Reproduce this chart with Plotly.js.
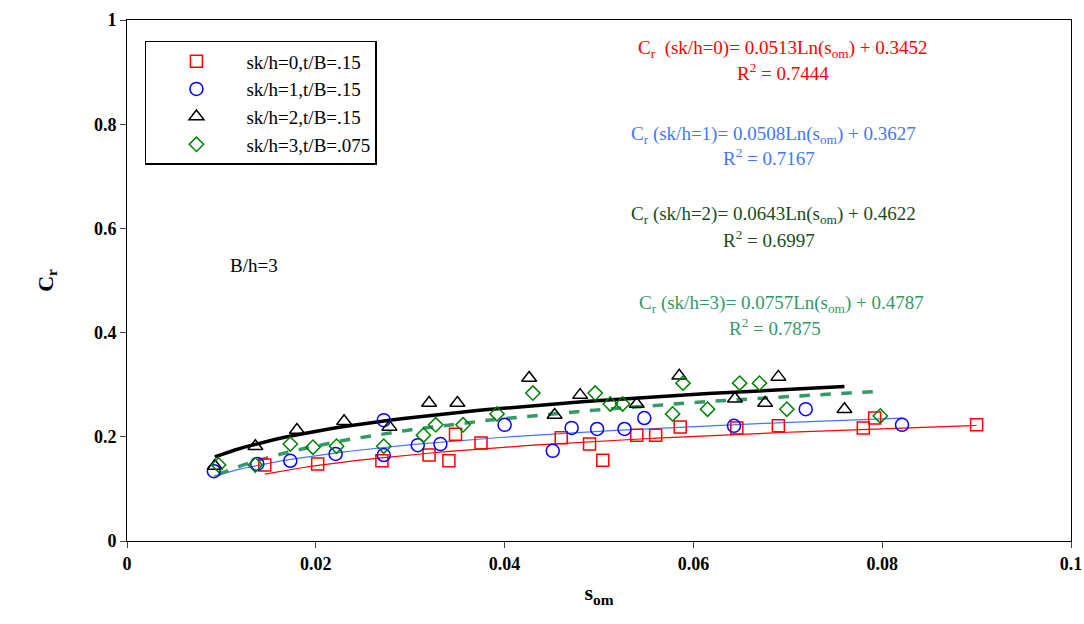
<!DOCTYPE html><html><head><script src="https://cdn.plot.ly/plotly-3.0.1.min.js"></script></head><body style="margin:0"><div id="c" style="width:1084px;height:624px"></div><script>
const x0=[0.0146,0.0202,0.027,0.032,0.0341,0.0348,0.0375,0.046,0.049,0.0504,0.054,0.056,0.0586,0.0646,0.069,0.078,0.0792,0.090];
const y0=[0.146,0.148,0.154,0.165,0.154,0.205,0.188,0.198,0.186,0.155,0.203,0.203,0.219,0.217,0.221,0.217,0.236,0.223];
const x1=[0.0092,0.0138,0.0173,0.0221,0.0272,0.0272,0.0308,0.0332,0.040,0.0451,0.0471,0.0498,0.0527,0.0548,0.0643,0.0719,0.0821];
const y1=[0.134,0.148,0.154,0.167,0.232,0.165,0.184,0.186,0.223,0.173,0.217,0.215,0.215,0.236,0.221,0.253,0.223];
const x2=[0.0093,0.0136,0.018,0.023,0.0278,0.032,0.035,0.0426,0.0453,0.048,0.054,0.0585,0.0644,0.0676,0.069,0.076];
const y2=[0.144,0.182,0.213,0.23,0.219,0.265,0.265,0.313,0.242,0.28,0.263,0.317,0.273,0.265,0.315,0.253];
const x3=[0.0097,0.0136,0.0173,0.0197,0.0222,0.0272,0.0314,0.0327,0.0356,0.0392,0.043,0.0496,0.0512,0.0525,0.0578,0.0589,0.0615,0.0649,0.067,0.0699,0.0798];
const y3=[0.146,0.146,0.186,0.18,0.182,0.182,0.203,0.223,0.223,0.244,0.284,0.284,0.263,0.263,0.244,0.303,0.253,0.303,0.303,0.253,0.24];
const fitA=[0.0513,0.0508,0.0643,0.0757], fitB=[0.3452,0.3627,0.4622,0.4787];
const fitRange=[[0.0146,0.090],[0.0092,0.0821],[0.0093,0.076],[0.0097,0.080]];
const names=['sk/h=0,t/B=.15','sk/h=1,t/B=.15','sk/h=2,t/B=.15','sk/h=3,t/B=.075'];
const mk=[{symbol:'square-open',color:'#ff0000',size:12},{symbol:'circle-open',color:'#0000ff',size:13},{symbol:'triangle-up-open',color:'#000',size:13},{symbol:'diamond-open',color:'#008000',size:11}];
const lines=[{color:'#ff0000',width:1.2},{color:'#4477ff',width:1.2},{color:'#000',width:3.5},{color:'#339966',width:3.5,dash:'dash'}];
const X=[x0,x1,x2,x3],Y=[y0,y1,y2,y3];
const data=[];
for(let i=0;i<4;i++){const [a,b]=fitRange[i];const xs=[],ys=[];for(let k=0;k<=60;k++){const x=a+(b-a)*k/60;xs.push(x);ys.push(fitA[i]*Math.log(x)+fitB[i]);}
data.push({x:xs,y:ys,mode:'lines',line:lines[i],showlegend:false,hoverinfo:'skip'});}
for(let i=0;i<4;i++)data.push({x:X[i],y:Y[i],mode:'markers',name:names[i],marker:{symbol:mk[i].symbol,size:mk[i].size,color:mk[i].color,line:{width:1.5,color:mk[i].color}}});
const f='Liberation Serif';
const ann=(x,y,t,c)=>({x,y,xref:'x',yref:'y',text:t,showarrow:false,font:{family:f,size:19,color:c}});
const layout={margin:{l:127,r:13,t:20,b:83},font:{family:f},plot_bgcolor:'#fff',
xaxis:{range:[0,0.1],dtick:0.02,tickformat:'.2~f',showgrid:false,zeroline:false,showline:true,mirror:true,linecolor:'#000',ticks:'outside',ticklen:6,tickfont:{family:f,size:18,color:'#000',weight:'bold'},title:{text:'<b>s<sub>om</sub></b>',font:{size:22,color:'#000'},standoff:12}},
yaxis:{range:[0,1],dtick:0.2,tickformat:'.1~f',showgrid:false,zeroline:false,showline:true,mirror:true,linecolor:'#000',ticks:'outside',ticklen:6,tickfont:{family:f,size:18,color:'#000',weight:'bold'},title:{text:'<b>C<sub>r</sub></b>',font:{size:22,color:'#000'},standoff:34}},
legend:{x:0.019,y:0.96,xanchor:'left',yanchor:'top',bordercolor:'#000',borderwidth:1.5,font:{family:f,size:19,color:'#000'},tracegroupgap:0,itemwidth:90},
annotations:[ann(0.0695,0.944,'C<sub>r</sub>  (sk/h=0)= 0.0513Ln(s<sub>om</sub>) + 0.3452','#ff0000'),ann(0.0695,0.9,'R<sup>2</sup> = 0.7444','#ff0000'),
ann(0.0685,0.78,'C<sub>r</sub> (sk/h=1)= 0.0508Ln(s<sub>om</sub>) + 0.3627','#4477ff'),ann(0.068,0.737,'R<sup>2</sup> = 0.7167','#4477ff'),
ann(0.0685,0.625,'C<sub>r</sub> (sk/h=2)= 0.0643Ln(s<sub>om</sub>) + 0.4622','#1a4d1a'),ann(0.068,0.58,'R<sup>2</sup> = 0.6997','#1a4d1a'),
ann(0.0693,0.455,'C<sub>r</sub> (sk/h=3)= 0.0757Ln(s<sub>om</sub>) + 0.4787','#339966'),ann(0.0686,0.41,'R<sup>2</sup> = 0.7875','#339966'),
ann(0.0135,0.529,'B/h=3','#000')]};
Plotly.newPlot('c',data,layout,{displayModeBar:false});
</script></body></html>
